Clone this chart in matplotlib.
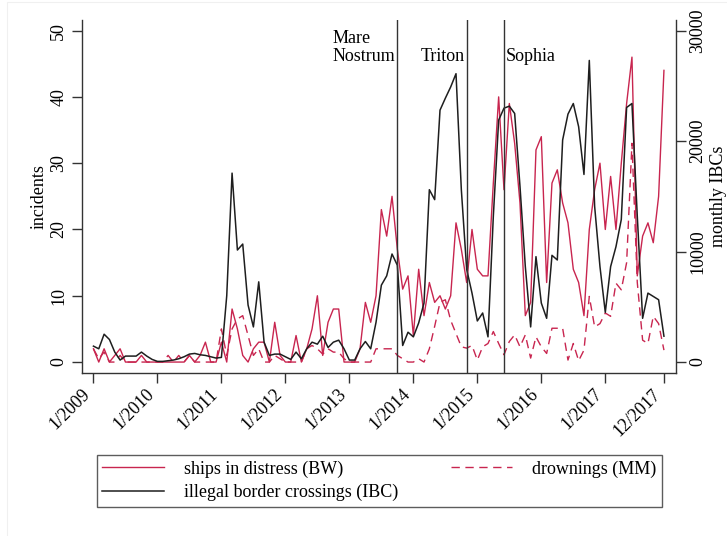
import numpy as np
import pandas as pd
import matplotlib
matplotlib.use("Agg")
import matplotlib.pyplot as plt
from matplotlib.lines import Line2D
from matplotlib.patches import Rectangle
from matplotlib.transforms import blended_transform_factory

plt.rcParams["font.family"] = ["Liberation Serif", "DejaVu Serif"]

months = pd.period_range("2009-01", "2017-12", freq="M")

# ships in distress (Bordermonitoring), per month
ships = [2, 0, 2, 0, 1, 2, 0, 0, 0, 1, 0, 0, 0, 0, 0, 0, 0, 0, 1, 0, 1, 3, 0, 0,
         3, 0, 8, 5, 1, 0, 2, 3, 3, 0, 6, 1, 0, 0, 4, 0, 2, 5, 10, 1, 6, 8, 8, 0,
         0, 0, 2, 9, 6, 10, 23, 19, 25, 17, 11, 13, 4, 14, 7, 12, 9, 10, 8, 10, 21, 17, 12, 20,
         14, 13, 13, 27, 40, 26, 39, 33, 24, 7, 9, 32, 34, 12, 27, 29, 24, 21, 14, 12, 7, 20, 26, 30,
         20, 28, 20, 30, 39, 46, 13, 19, 21, 18, 25, 44]

# drownings (Missing Migrants), per month
drownings = [2, 0.5, 1.5, 0, 0, 1, 0, 0, 0, 0, 0, 0, 0, 0, 1, 0, 1, 0, 1, 0, 0, 0, 0, 0,
             5, 1, 5, 6.5, 7, 4, 1, 2, 0, 0, 1, 0.5, 0, 0, 0, 0, 2, 2.5, 2, 1.2, 2, 1.5, 1.5, 0.5,
             0, 0, 0, 0, 0, 2, 2, 2, 2, 1, 0.5, 0, 0, 0.5, 0, 2, 5.4, 9, 9.4, 6.3, 4.3, 2.3, 2.1, 2.5,
             0.3, 2.3, 2.8, 4.6, 2.8, 1.1, 3.1, 4.1, 2.3, 4.1, 0.6, 3.8, 2.3, 1.3, 5.1, 5.1, 5.1, 0.3, 2.8, 0.2, 1.8, 9.9, 5.3, 5.8,
             7.4, 6.9, 11.9, 10.9, 15, 33, 12, 3.3, 2.8, 6.9, 5.8, 1.8]

# illegal border crossings (Frontex), monthly count
ibc = [1440, 1200, 2520, 2040, 900, 180, 540, 540, 540, 900, 540, 240,
       60, 60, 120, 180, 300, 480, 720, 780, 660, 600, 480, 360,
       420, 6000, 17100, 10140, 10680, 5160, 3180, 7260, 1800, 600, 720, 720,
       480, 240, 900, 300, 1200, 1800, 1620, 2340, 1320, 1800, 1980, 1200,
       180, 180, 1200, 1860, 1200, 3600, 6960, 7800, 9780, 8760, 1500, 2700,
       2280, 3540, 5340, 15600, 14700, 22800, 23880, 24900, 26100, 15600, 8400, 6240,
       3720, 4440, 2280, 13200, 21900, 22980, 23160, 22500, 15900, 8640, 3180, 9540,
       5340, 3960, 9660, 9240, 20100, 22440, 23400, 21300, 16980, 27300, 14100, 8640,
       4500, 8640, 10440, 12900, 23040, 23400, 13200, 3960, 6240, 5940, 5640, 2340]

operations = ["Mare\nNostrum", "Triton", "Sophia"]
operation_starts = ["2013-10", "2014-11", "2015-06"]

tick_months = ["2009-01", "2010-01", "2011-01", "2012-01", "2013-01",
               "2014-01", "2015-01", "2016-01", "2017-01", "2017-12"]
tick_labels = ["1/2009", "1/2010", "1/2011", "1/2012", "1/2013",
               "1/2014", "1/2015", "1/2016", "1/2017", "12/2017"]

RED = "#C8254F"
DARK = "#1e1e1e"
FS = 13
SCALE = 600  # right axis units per incident

x = np.arange(len(months))
pos = {str(p): i for i, p in enumerate(months)}

fig = plt.figure(figsize=(7.27, 5.36), dpi=100)
fig.patches.append(Rectangle((0.009, -0.01), 1.2, 1.006, transform=fig.transFigure,
                             fill=False, edgecolor="#f0f0f0", linewidth=0.8))
ax = fig.add_axes([0.1124, 0.3035, 0.817, 0.6592])
ax2 = ax.twinx()

ax.plot(x, ships, color=RED, lw=1.0)
ax.plot(x, drownings, color=RED, lw=1.0, linestyle=(0, (6, 4)))
ax2.plot(x, ibc, color=DARK, lw=1.1)

ylo, yhi = -1.7, 51.6
ax.set_ylim(ylo, yhi)
ax2.set_ylim(ylo * SCALE, yhi * SCALE)
ax.set_xlim(-2.2, 109.2)

ax.set_yticks([0, 10, 20, 30, 40, 50])
ax2.set_yticks([0, 10000, 20000, 30000])
ax.set_xticks([pos[m] for m in tick_months])
ax.set_xticklabels(tick_labels, rotation=45, ha="right", va="top")

ax.tick_params(axis="y", labelsize=FS, labelrotation=90, length=7, width=1, color="#333333")
ax2.tick_params(axis="y", labelsize=FS, labelrotation=90, length=7, width=1, color="#333333",
                pad=3)
ax.tick_params(axis="x", labelsize=FS, length=7, width=1, color="#333333", pad=2)
for lab in ax.get_yticklabels():
    lab.set_va("center")
for lab in ax2.get_yticklabels():
    lab.set_va("center")

ax.set_ylabel("incidents", fontsize=FS)
ax.yaxis.set_label_coords(-0.058, 0.5)
ax2.set_ylabel("monthly IBCs", fontsize=FS)
ax2.yaxis.set_label_coords(1.057, 0.5)

for a in (ax, ax2):
    a.spines["top"].set_visible(False)
    for s in a.spines.values():
        s.set_color("#333333")
        s.set_linewidth(1.0)
ax2.spines["left"].set_visible(False)
ax2.spines["bottom"].set_visible(False)
ax.spines["right"].set_visible(False)

# naval operations
trans = blended_transform_factory(ax.transData, ax.transAxes)
for name, start in zip(operations, operation_starts):
    xv = pos[start]
    ax2.axvline(xv, color="#333333", lw=1.0)
    if name == "Sophia":
        ax.text(xv + 0.3, 0.898, name, transform=trans, fontsize=FS,
                ha="left", va="center")
    elif name == "Triton":
        ax.text(xv - 0.4, 0.898, name, transform=trans, fontsize=FS,
                ha="right", va="center")
    else:
        ax.text(xv - 0.4, 0.972, name, transform=trans, fontsize=FS,
                ha="right", va="top", multialignment="left", linespacing=1.05)

handles = [Line2D([], [], color=RED, lw=1.0),
           Line2D([], [], color=DARK, lw=1.1),
           Line2D([], [], color=RED, lw=1.0, linestyle=(0, (6, 4)))]
labels = ["ships in distress (BW)", "illegal border crossings (IBC)", "drownings (MM)"]
leg = fig.legend(handles, labels, loc="upper left", ncol=2, mode="expand",
                 bbox_to_anchor=(97 / 727, 1 - 513 / 536, 565 / 727, 58 / 536),
                 fontsize=FS, frameon=True, fancybox=False, edgecolor="#333333",
                 handlelength=3.4, handletextpad=1.1, labelspacing=0.35,
                 borderpad=0.3, borderaxespad=0)
leg.get_frame().set_linewidth(1.0)

fig.savefig("out.png", dpi=100, facecolor="white")
